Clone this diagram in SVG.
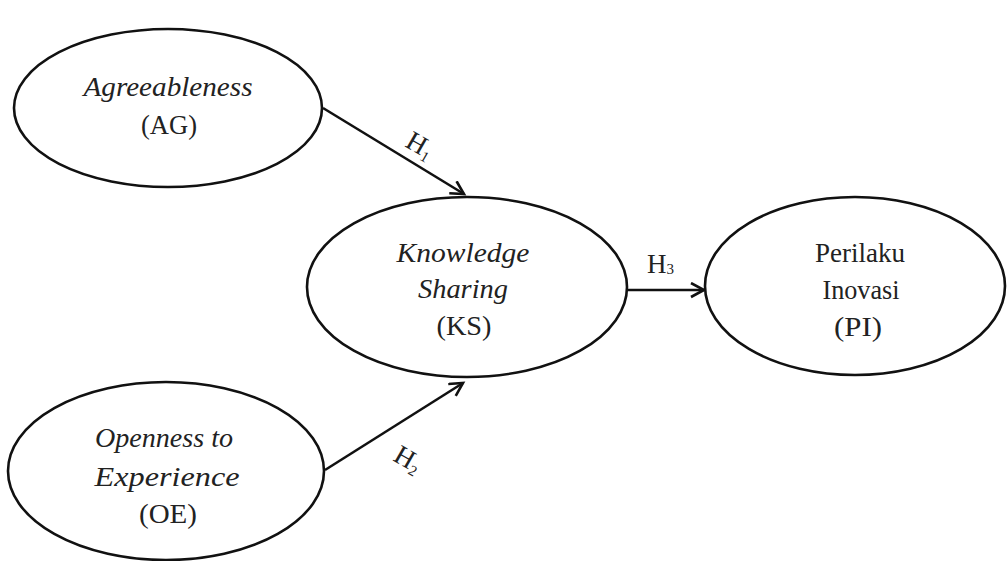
<svg xmlns="http://www.w3.org/2000/svg" width="1007" height="561" viewBox="0 0 1007 561">
<defs>
<style>
.node{fill:#fff;stroke:#111;stroke-width:2.6}
.t{font-family:"Liberation Serif","Times New Roman",serif;font-size:27px;fill:#222;text-anchor:middle}
.i{font-style:italic}
.lbl{font-family:"Liberation Serif","Times New Roman",serif;font-size:27px;fill:#222}
.sub{font-size:15px}
.edge{stroke:#111;stroke-width:2.6;fill:none}
</style>
<marker id="arr" markerUnits="userSpaceOnUse" markerWidth="20" markerHeight="20" refX="14" refY="8" orient="auto">
<path d="M1,1 L14,8 L1,15" fill="none" stroke="#111" stroke-width="2.6" stroke-linejoin="miter"/>
</marker>
</defs>
<rect width="1007" height="561" fill="#fff"/>
<g id="connectors">
<line class="edge" x1="323" y1="108" x2="464" y2="194" marker-end="url(#arr)"/>
<line class="edge" x1="325" y1="470" x2="463" y2="383" marker-end="url(#arr)"/>
<line class="edge" x1="623" y1="290" x2="704" y2="290" marker-end="url(#arr)"/>
<text class="lbl" transform="translate(404,146) rotate(30)">H<tspan class="sub" dy="4">1</tspan></text>
<text class="lbl" transform="translate(392,460) rotate(30)">H<tspan class="sub" dy="4">2</tspan></text>
<text class="lbl" x="647" y="273">H<tspan class="sub" dy="1">3</tspan></text>
</g>
<g id="AG">
<ellipse class="node" cx="168" cy="108" rx="154" ry="79"/>
<text class="t i" x="168" y="96" textLength="169" lengthAdjust="spacingAndGlyphs">Agreeableness</text>
<text class="t" x="169" y="134" textLength="56" lengthAdjust="spacingAndGlyphs">(AG)</text>
</g>
<g id="OE">
<ellipse class="node" cx="166" cy="471" rx="158" ry="89"/>
<text class="t i" x="164" y="447" textLength="138" lengthAdjust="spacingAndGlyphs">Openness to</text>
<text class="t i" x="167" y="486" textLength="145" lengthAdjust="spacingAndGlyphs">Experience</text>
<text class="t" x="168" y="523" textLength="58" lengthAdjust="spacingAndGlyphs">(OE)</text>
</g>
<g id="KS">
<ellipse class="node" cx="467" cy="287" rx="160" ry="90"/>
<text class="t i" x="463" y="262" textLength="133" lengthAdjust="spacingAndGlyphs">Knowledge</text>
<text class="t i" x="463" y="298" textLength="90" lengthAdjust="spacingAndGlyphs">Sharing</text>
<text class="t" x="464" y="335" textLength="55" lengthAdjust="spacingAndGlyphs">(KS)</text>
</g>
<g id="PI">
<ellipse class="node" cx="855" cy="286" rx="150" ry="89"/>
<text class="t" x="860" y="262" textLength="90" lengthAdjust="spacingAndGlyphs">Perilaku</text>
<text class="t" x="861" y="299" textLength="77" lengthAdjust="spacingAndGlyphs">Inovasi</text>
<text class="t" x="858" y="336" textLength="48" lengthAdjust="spacingAndGlyphs">(PI)</text>
</g>
</svg>
